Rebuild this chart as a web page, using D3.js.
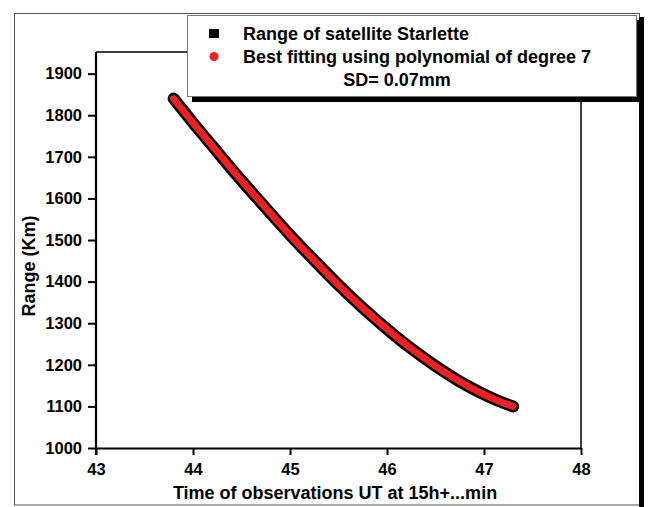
<!DOCTYPE html>
<html>
<head>
<meta charset="utf-8">
<script src="https://cdn.jsdelivr.net/npm/d3@7"></script>
<style>
  html, body { margin: 0; padding: 0; background: #fff; }
  svg { display: block; }
  text { font-family: "Liberation Sans", Arial, sans-serif; font-weight: bold; fill: #000; }
</style>
</head>
<body>
<div id="chart"></div>
<script>
// Chart data
const timeMin = [43.8, 44.0, 44.25, 44.5, 44.75, 45.0, 45.25, 45.5, 45.75, 46.0, 46.25, 46.5, 46.75, 47.0, 47.15, 47.3];
const rangeKm = [1840, 1782, 1712, 1643, 1577, 1512, 1451, 1392, 1337, 1286, 1239, 1197, 1160, 1129, 1113, 1100];
const xTicks = [43, 44, 45, 46, 47, 48];
const yTicks = [1000, 1100, 1200, 1300, 1400, 1500, 1600, 1700, 1800, 1900];
const legendLabels = ["Range of satellite Starlette", "Best fitting using polynomial of degree 7"];
const legendNote = "SD= 0.07mm";
const xTitle = "Time of observations UT at 15h+...min";
const yTitle = "Range (Km)";

const W = 648, H = 507;
const plot = { left: 96, right: 581, top: 52, bottom: 448 };

const svg = d3.select("#chart").append("svg")
    .attr("width", W)
    .attr("height", H);

// Outer frame with heavy right edge
svg.append("rect")
    .attr("x", 14.5).attr("y", 13.5)
    .attr("width", 625).attr("height", 491.5)
    .attr("fill", "none")
    .attr("stroke", "#555")
    .attr("stroke-width", 1);
svg.append("rect")
    .attr("x", 639).attr("y", 17)
    .attr("width", 5).attr("height", H - 17)
    .attr("fill", "#000");

// Scales
var x = d3.scaleLinear().domain([43, 48]).range([plot.left, plot.right]);
var y = d3.scaleLinear().domain([1000, 1952]).range([plot.bottom, plot.top]);

// Plot box (top and right)
svg.append("path")
    .attr("d", "M" + plot.left + "," + plot.top + "H" + plot.right + "V" + plot.bottom)
    .attr("fill", "none")
    .attr("stroke", "#000")
    .attr("stroke-width", 1.5);

// Axes
const xAxis = d3.axisBottom(x).tickValues(xTicks).tickFormat(d3.format("d"))
    .tickSizeInner(7).tickSizeOuter(0).tickPadding(8);
const yAxis = d3.axisLeft(y).tickValues(yTicks).tickFormat(d3.format("d"))
    .tickSizeInner(8).tickSizeOuter(0).tickPadding(6);

const gx = svg.append("g")
    .attr("transform", "translate(0," + plot.bottom + ")")
    .call(xAxis);
const gy = svg.append("g")
    .attr("transform", "translate(" + plot.left + ",0)")
    .call(yAxis);

[gx, gy].forEach(g => {
    g.select(".domain").attr("stroke", "#000").attr("stroke-width", 2.2);
    g.selectAll(".tick line").attr("stroke", "#000").attr("stroke-width", 2);
    g.selectAll(".tick text")
        .attr("font-size", 16.5)
        .attr("font-family", "Liberation Sans, Arial, sans-serif")
        .attr("font-weight", "bold")
        .attr("fill", "#000");
});
// extend left axis down past the x axis so 1000 tick forms a cross
gy.select(".domain").attr("d", "M0," + plot.top + "V" + (plot.bottom + 7));

// Axis titles
svg.append("text")
    .attr("x", 335).attr("y", 499)
    .attr("text-anchor", "middle")
    .attr("font-size", 18)
    .text(xTitle);
svg.append("text")
    .attr("transform", "translate(35,266) rotate(-90)")
    .attr("text-anchor", "middle")
    .attr("font-size", 18)
    .text(yTitle);

// Data curve: black squares band with red fitted line on top
const pts = timeMin.map((t, i) => [t, rangeKm[i]]);
const line = d3.line()
    .x(d => x(d[0]))
    .y(d => y(d[1]))
    .curve(d3.curveCatmullRom);

svg.append("path")
    .datum(pts)
    .attr("d", line)
    .attr("fill", "none")
    .attr("stroke", "#000")
    .attr("stroke-width", 12)
    .attr("stroke-linejoin", "round")
    .attr("stroke-linecap", "round");
svg.append("path")
    .datum(pts)
    .attr("d", line)
    .attr("fill", "none")
    .attr("stroke", "#ee2024")
    .attr("stroke-width", 7)
    .attr("stroke-linejoin", "round")
    .attr("stroke-linecap", "round");

// Legend box with shadow
const lg = svg.append("g");
lg.append("rect")
    .attr("x", 192).attr("y", 20)
    .attr("width", 451).attr("height", 82)
    .attr("fill", "#000");
lg.append("rect")
    .attr("x", 187.5).attr("y", 15.5)
    .attr("width", 449).attr("height", 81)
    .attr("fill", "#fff")
    .attr("stroke", "#777")
    .attr("stroke-width", 1);

lg.append("rect")
    .attr("x", 209).attr("y", 29)
    .attr("width", 10).attr("height", 9)
    .attr("fill", "#000");
lg.append("circle")
    .attr("cx", 214).attr("cy", 56.5)
    .attr("r", 4.5)
    .attr("fill", "#ee2024");

legendLabels.forEach((s, i) => {
    lg.append("text")
        .attr("x", 243).attr("y", 39.5 + i * 23)
        .attr("font-size", 18)
        .text(s);
});
lg.append("text")
    .attr("x", 397).attr("y", 86)
    .attr("text-anchor", "middle")
    .attr("font-size", 18)
    .text(legendNote);
</script>
</body>
</html>
